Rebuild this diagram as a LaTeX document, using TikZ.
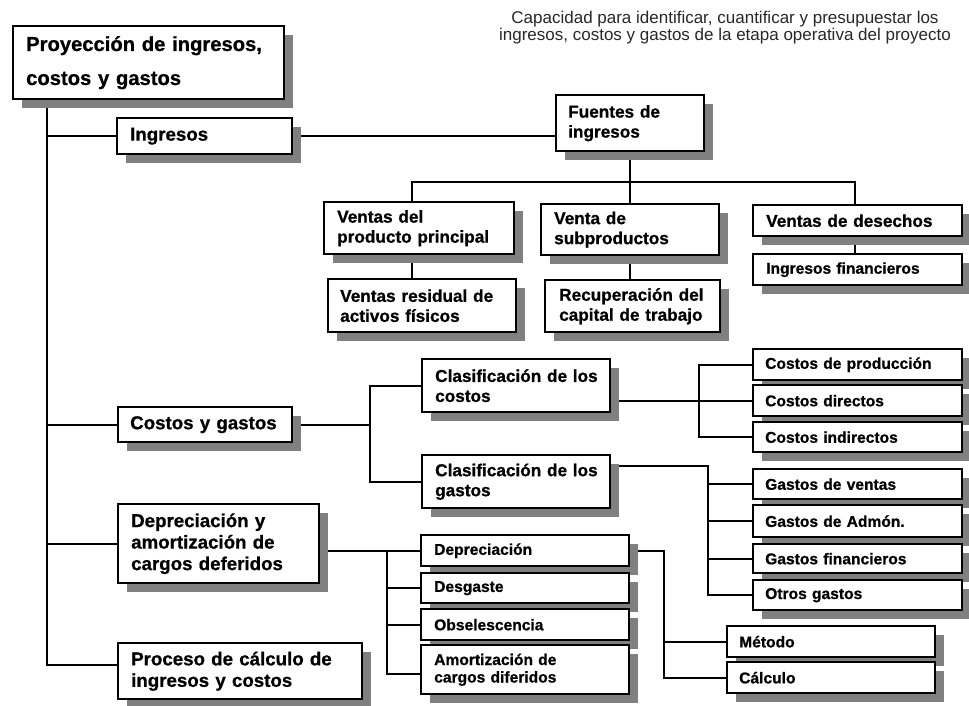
\documentclass[tikz,border=0pt]{standalone}
\usepackage{fontspec}
\setmainfont{Liberation Sans}[BoldFeatures={FakeBold=0.8}]
\usetikzlibrary{shadows,backgrounds}
\definecolor{shadowgray}{RGB}{128,128,128}
\definecolor{captext}{RGB}{40,40,40}
\tikzset{
  box/.style={draw=black, line width=2.4pt, fill=white, anchor=north west,
    inner ysep=0pt, align=left, text=black,
    general shadow={fill=shadowgray, shadow xshift=8.5pt, shadow yshift=-8.5pt}},
  titlef/.style={font=\fontsize{20.2}{34}\selectfont\bfseries},
  bigf/.style={font=\fontsize{18.7}{21.5}\selectfont\bfseries},
  midf/.style={font=\fontsize{17.2}{20}\selectfont\bfseries},
  smallf/.style={font=\fontsize{15.6}{17.5}\selectfont\bfseries},
  conn/.style={draw=black, line width=2pt},
  captxt/.style={font=\fontsize{17}{17}\selectfont, text=captext, align=center, inner sep=0pt}
}
\newcommand{\mkbox}[8]{%
  \pgfmathsetmacro{\mkbw}{#4-#2}%
  \pgfmathsetmacro{\mkbh}{#5-#3}%
  \pgfmathsetmacro{\mkbt}{#4-#2-2*#6}%
  \node[box, #7, minimum width=\mkbw pt, minimum height=\mkbh pt,
        text width=\mkbt pt, inner xsep=#6pt] (#1) at (#2,#3) {#8};}
\begin{document}
\begin{tikzpicture}[x=1pt, y=-1pt]
\useasboundingbox (0,0) rectangle (969,705);

\node[captxt, anchor=north] (cap) at (725,11)
  {Capacidad para identificar, cuantificar y presupuestar los\\ingresos, costos y gastos de la etapa operativa del proyecto};

\mkbox{title}{12}{25}{283}{98}{13}{titlef}{Proyección~de~ingresos,\\costos y gastos}
\mkbox{ingr}{116}{117}{291}{153}{13}{bigf}{Ingresos}
\mkbox{fuentes}{555}{94}{703}{150}{12}{midf}{Fuentes de\\ingresos}
\mkbox{vpp}{323}{201}{513}{253}{13}{midf}{Ventas del\\producto~principal}
\mkbox{vsub}{540}{203}{718}{254}{13}{midf}{Venta de\\subproductos}
\mkbox{vd}{752}{204}{961}{235}{13}{midf}{Ventas~de~desechos}
\mkbox{ifin}{752}{253}{961}{284}{13}{smallf}{Ingresos~financieros}
\mkbox{vres}{327}{278}{515}{331}{12}{midf}{Ventas~residual~de\\activos físicos}
\mkbox{recup}{544}{279}{719}{331}{14}{midf}{Recuperación~del\\capital~de~trabajo}
\mkbox{cyg}{117}{406}{291}{441}{12}{bigf}{Costos~y~gastos}
\mkbox{ccost}{421}{358}{609}{411}{13}{midf}{Clasificación~de~los\\costos}
\mkbox{cgast}{421}{454}{609}{507}{13}{midf}{Clasificación~de~los\\gastos}
\mkbox{cprod}{752}{348}{961}{379}{12}{smallf}{Costos~de~producción}
\mkbox{cdir}{752}{384}{961}{415}{12}{smallf}{Costos directos}
\mkbox{cind}{752}{421}{961}{451}{12}{smallf}{Costos indirectos}
\mkbox{gv}{752}{468}{961}{498}{12}{smallf}{Gastos de ventas}
\mkbox{gadm}{752}{504}{961}{536}{12}{smallf}{Gastos de Admón.}
\mkbox{gfin}{752}{543}{961}{572}{12}{smallf}{Gastos financieros}
\mkbox{gotr}{752}{579}{961}{609}{12}{smallf}{Otros gastos}
\mkbox{dya}{117}{503}{318}{582}{13}{bigf}{Depreciación~y\\amortización~de\\cargos~deferidos}
\mkbox{dep}{420}{534}{628}{565}{13}{smallf}{Depreciación}
\mkbox{des}{420}{572}{628}{602}{13}{smallf}{Desgaste}
\mkbox{obs}{420}{608}{628}{639}{13}{smallf}{Obselescencia}
\mkbox{amo}{420}{644}{628}{693}{13}{smallf}{Amortización~de\\cargos~diferidos}
\mkbox{proc}{117}{642}{361}{698}{13}{bigf}{Proceso~de~cálculo~de\\ingresos~y~costos}
\mkbox{met}{726}{625}{934}{656}{12}{smallf}{Método}
\mkbox{calc}{726}{661}{934}{692}{12}{smallf}{Cálculo}

\begin{pgfonlayer}{background}
  \fill[white] (0,0) rectangle (969,705);
  % trunk
  \coordinate (t0) at ([xshift=35pt]title.south west);
  \draw[conn] (t0) |- ([yshift=6pt]proc.west);
  \draw[conn] (t0 |- ingr.west) -- (ingr.west);
  \draw[conn] (t0 |- cyg.west) -- (cyg.west);
  \draw[conn] (t0 |- dya.west) -- (dya.west);
  % ingresos
  \draw[conn] (ingr.east) -- (ingr.east -| fuentes.west);
  \coordinate (fb) at ([yshift=-30pt]fuentes.south);
  \draw[conn] (fuentes.south) -- (fb);
  \draw[conn] ([xshift=-7pt]vpp.north) |- (fb) -| ([xshift=-3pt]vd.north);
  \draw[conn] (fb) -- (fb |- vsub.north);
  \draw[conn] ([xshift=-7pt]vpp.south) -- ([xshift=-7pt]vpp.south |- vres.north);
  \draw[conn] (vsub.south) -- (vsub.south |- recup.north);
  \draw[conn] ([xshift=-3pt]vd.south) -- ([xshift=-3pt]vd.south |- ifin.north);
  % costos y gastos
  \coordinate (cy) at ([xshift=77pt]cyg.east);
  \draw[conn] (cyg.east) -- (cy);
  \draw[conn] (ccost.west) -| (cy) |- (cgast.west);
  \draw[conn] (ccost.east |- cdir.west) -- (cdir.west);
  \coordinate (cx) at ([xshift=-53pt]cprod.west);
  \draw[conn] (cprod.west) -- (cx) |- (cind.west);
  \coordinate (gx) at ([xshift=-44pt]gv.west);
  \draw[conn] ([yshift=-12pt]cgast.north east) -| (gx |- gotr.west) -- (gotr.west);
  \draw[conn] (gx) -- (gv.west);
  \draw[conn] (gx |- gadm.west) -- (gadm.west);
  \draw[conn] (gx |- gfin.west) -- (gfin.west);
  % depreciacion
  \draw[conn] (dya.east |- dep.west) -- (dep.west);
  \coordinate (dx) at ([xshift=-33pt]dep.west);
  \draw[conn] (dx) |- ([yshift=-4.5pt]amo.west);
  \draw[conn] (dx |- des.west) -- (des.west);
  \draw[conn] (dx |- obs.west) -- (obs.west);
  \coordinate (mx) at ([xshift=-62pt]met.west);
  \draw[conn] (dep.east) -| (mx |- calc.west) -- (calc.west);
  \draw[conn] (mx) -- (met.west);
\end{pgfonlayer}
\end{tikzpicture}
\end{document}
